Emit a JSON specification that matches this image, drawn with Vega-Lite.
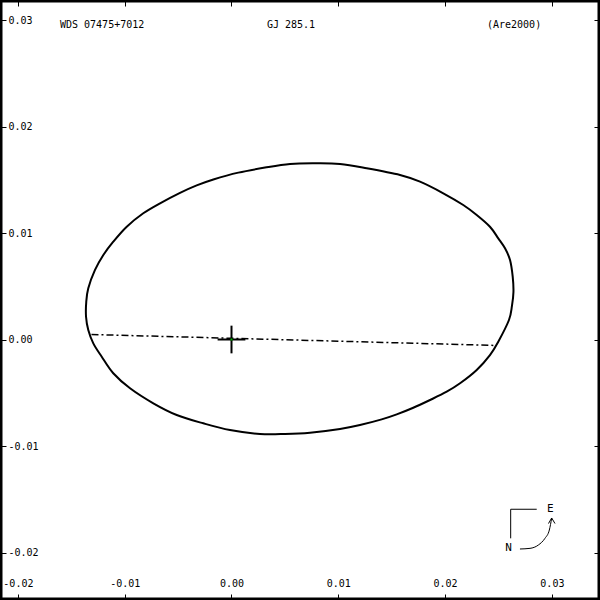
{
  "$schema": "https://vega.github.io/schema/vega-lite/v6.json",
  "width": 600,
  "height": 600,
  "autosize": {"type": "none"},
  "padding": 0,
  "background": "white",
  "config": {
    "view": {"stroke": "black", "strokeWidth": 5},
    "locale": {"number": {"decimal": ".", "thousands": ",", "grouping": [3], "currency": ["$", ""], "minus": "-"}},
    "axis": {
      "domain": false, "grid": false, "tickColor": "black", "tickWidth": 1, "tickSize": -6,
      "labelFont": "DejaVu Sans Mono", "labelFontSize": 10, "labelColor": "black",
      "labelFlush": false, "labelOverlap": false, "title": null
    }
  },
  "datasets": {
    "orbit": [
      {"i": 1, "x": 0.00064, "y": 0.01567},
      {"i": 2, "x": 0.00314, "y": 0.01614},
      {"i": 3, "x": 0.00548, "y": 0.01648},
      {"i": 4, "x": 0.00782, "y": 0.01654},
      {"i": 5, "x": 0.01016, "y": 0.01648},
      {"i": 6, "x": 0.01266, "y": 0.01608},
      {"i": 7, "x": 0.01578, "y": 0.01545},
      {"i": 8, "x": 0.01765, "y": 0.01482},
      {"i": 9, "x": 0.01983, "y": 0.01373},
      {"i": 10, "x": 0.02170, "y": 0.01263},
      {"i": 11, "x": 0.02296, "y": 0.01169},
      {"i": 12, "x": 0.02420, "y": 0.01059},
      {"i": 13, "x": 0.02498, "y": 0.00950},
      {"i": 14, "x": 0.02561, "y": 0.00856},
      {"i": 15, "x": 0.02608, "y": 0.00746},
      {"i": 16, "x": 0.02633, "y": 0.00590},
      {"i": 17, "x": 0.02640, "y": 0.00446},
      {"i": 18, "x": 0.02626, "y": 0.00315},
      {"i": 19, "x": 0.02598, "y": 0.00183},
      {"i": 20, "x": 0.02498, "y": -0.00021},
      {"i": 21, "x": 0.02420, "y": -0.00146},
      {"i": 22, "x": 0.02296, "y": -0.00286},
      {"i": 23, "x": 0.02140, "y": -0.00411},
      {"i": 24, "x": 0.02015, "y": -0.00490},
      {"i": 25, "x": 0.01859, "y": -0.00568},
      {"i": 26, "x": 0.01702, "y": -0.00641},
      {"i": 27, "x": 0.01547, "y": -0.00703},
      {"i": 28, "x": 0.01406, "y": -0.00750},
      {"i": 29, "x": 0.01203, "y": -0.00803},
      {"i": 30, "x": 0.01016, "y": -0.00840},
      {"i": 31, "x": 0.00735, "y": -0.00875},
      {"i": 32, "x": 0.00501, "y": -0.00887},
      {"i": 33, "x": 0.00267, "y": -0.00887},
      {"i": 34, "x": -0.00014, "y": -0.00850},
      {"i": 35, "x": -0.00264, "y": -0.00787},
      {"i": 36, "x": -0.00513, "y": -0.00709},
      {"i": 37, "x": -0.00732, "y": -0.00599},
      {"i": 38, "x": -0.00950, "y": -0.00458},
      {"i": 39, "x": -0.01107, "y": -0.00317},
      {"i": 40, "x": -0.01215, "y": -0.00162},
      {"i": 41, "x": -0.01294, "y": -0.00036},
      {"i": 42, "x": -0.01341, "y": 0.00089},
      {"i": 43, "x": -0.01362, "y": 0.00214},
      {"i": 44, "x": -0.01360, "y": 0.00352},
      {"i": 45, "x": -0.01341, "y": 0.00481},
      {"i": 46, "x": -0.01278, "y": 0.00653},
      {"i": 47, "x": -0.01200, "y": 0.00793},
      {"i": 48, "x": -0.01107, "y": 0.00918},
      {"i": 49, "x": -0.00981, "y": 0.01059},
      {"i": 50, "x": -0.00826, "y": 0.01185},
      {"i": 51, "x": -0.00669, "y": 0.01279},
      {"i": 52, "x": -0.00482, "y": 0.01377},
      {"i": 53, "x": -0.00326, "y": 0.01447},
      {"i": 54, "x": -0.00170, "y": 0.01503}
    ],
    "nodes": [
      {"x": -0.01311, "y": 0.00047},
      {"x": 0.02477, "y": -0.00056}
    ],
    "segments": [
      {"part": "crossV", "x": 0.0, "y": 0.0013, "x2": 0.0, "y2": -0.0013, "w": 2},
      {"part": "crossH", "x": -0.0013, "y": 0.0, "x2": 0.0013, "y2": 0.0, "w": 2},
      {"part": "compassH", "x": 0.02614, "y": -0.01594, "x2": 0.02858, "y2": -0.01594, "w": 1},
      {"part": "compassV", "x": 0.02614, "y": -0.01594, "x2": 0.02614, "y2": -0.01867, "w": 1}
    ],
    "arrow": [
      {"i": 1, "x": 0.02701, "y": -0.01967},
      {"i": 2, "x": 0.02795, "y": -0.01961},
      {"i": 3, "x": 0.02873, "y": -0.01930},
      {"i": 4, "x": 0.02935, "y": -0.01867},
      {"i": 5, "x": 0.02976, "y": -0.01789},
      {"i": 6, "x": 0.02998, "y": -0.01676}
    ],
    "arrowhead": [
      {"i": 1, "x": 0.02968, "y": -0.01728},
      {"i": 2, "x": 0.02998, "y": -0.01676},
      {"i": 3, "x": 0.03029, "y": -0.01728}
    ],
    "titles": [
      {"label": "WDS 07475+7012", "x": -0.01606, "y": 0.02953},
      {"label": "GJ 285.1", "x": 0.00332, "y": 0.02953},
      {"label": "(Are2000)", "x": 0.02392, "y": 0.02953}
    ],
    "letters": [
      {"label": "E", "x": 0.02985, "y": -0.01594},
      {"label": "N", "x": 0.02594, "y": -0.01961}
    ],
    "center": [{"x": 0.0, "y": 0.0}]
  },
  "resolve": {"axis": {"x": "independent", "y": "independent"}},
  "layer": [
    {
      "data": {"name": "orbit"},
      "mark": {"type": "line", "interpolate": "cardinal-closed", "color": "black", "strokeWidth": 2},
      "encoding": {
        "x": {"field": "x", "type": "quantitative",
              "scale": {"domain": [-0.021676, 0.034504], "nice": false, "zero": false},
              "axis": {"orient": "bottom", "values": [-0.02, -0.01, 0, 0.01, 0.02, 0.03], "format": ".2f", "labelPadding": -11, "labelBaseline": "middle"}},
        "y": {"field": "y", "type": "quantitative",
              "scale": {"domain": [-0.02446, 0.031878], "nice": false, "zero": false},
              "axis": {"orient": "left", "values": [-0.02, -0.01, 0, 0.01, 0.02, 0.03], "format": ".2f", "labelPadding": -2, "labelAlign": "left", "labelBaseline": "middle"}},
        "order": {"field": "i", "type": "quantitative"}
      }
    },
    {
      "data": {"name": "nodes"},
      "mark": {"type": "line", "color": "black", "strokeWidth": 1.5, "strokeDash": [7, 3, 2, 3]},
      "encoding": {
        "x": {"field": "x", "type": "quantitative",
              "axis": {"orient": "top", "values": [-0.02, -0.01, 0, 0.01, 0.02, 0.03], "labels": false}},
        "y": {"field": "y", "type": "quantitative",
              "axis": {"orient": "right", "values": [-0.02, -0.01, 0, 0.01, 0.02, 0.03], "labels": false}}
      }
    },
    {
      "data": {"name": "segments"},
      "mark": {"type": "rule", "color": "black"},
      "encoding": {
        "x": {"field": "x", "type": "quantitative", "axis": null},
        "y": {"field": "y", "type": "quantitative", "axis": null},
        "x2": {"field": "x2"},
        "y2": {"field": "y2"},
        "strokeWidth": {"field": "w", "type": "quantitative", "scale": null, "legend": null}
      }
    },
    {
      "data": {"name": "arrow"},
      "mark": {"type": "line", "interpolate": "monotone", "color": "black", "strokeWidth": 1},
      "encoding": {
        "x": {"field": "x", "type": "quantitative", "axis": null},
        "y": {"field": "y", "type": "quantitative", "axis": null},
        "order": {"field": "i", "type": "quantitative"}
      }
    },
    {
      "data": {"name": "arrowhead"},
      "mark": {"type": "line", "color": "black", "strokeWidth": 1},
      "encoding": {
        "x": {"field": "x", "type": "quantitative", "axis": null},
        "y": {"field": "y", "type": "quantitative", "axis": null},
        "order": {"field": "i", "type": "quantitative"}
      }
    },
    {
      "data": {"name": "center"},
      "mark": {"type": "square", "size": 4, "color": "#00b000", "opacity": 1},
      "encoding": {
        "x": {"field": "x", "type": "quantitative", "axis": null},
        "y": {"field": "y", "type": "quantitative", "axis": null}
      }
    },
    {
      "data": {"name": "titles"},
      "mark": {"type": "text", "align": "left", "baseline": "middle", "font": "DejaVu Sans Mono", "fontSize": 10, "color": "black"},
      "encoding": {
        "x": {"field": "x", "type": "quantitative", "axis": null},
        "y": {"field": "y", "type": "quantitative", "axis": null},
        "text": {"field": "label"}
      }
    },
    {
      "data": {"name": "letters"},
      "mark": {"type": "text", "align": "center", "baseline": "middle", "font": "DejaVu Sans Mono", "fontSize": 11, "color": "black"},
      "encoding": {
        "x": {"field": "x", "type": "quantitative", "axis": null},
        "y": {"field": "y", "type": "quantitative", "axis": null},
        "text": {"field": "label"}
      }
    }
  ]
}
